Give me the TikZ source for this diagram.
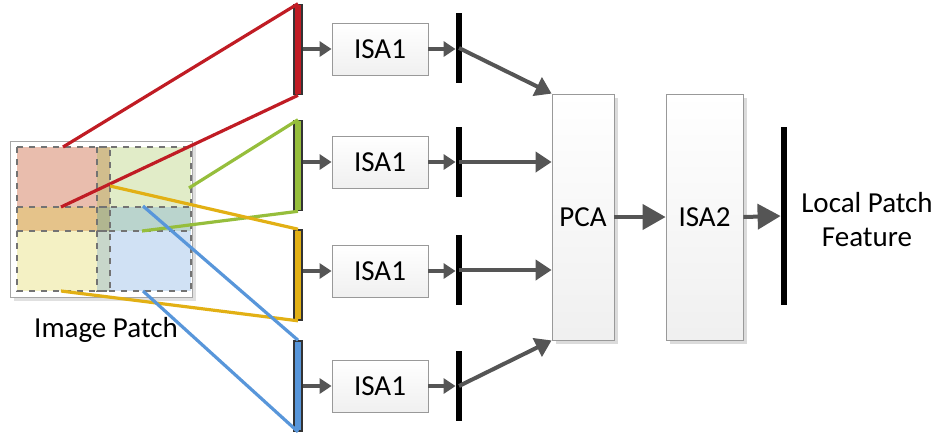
\documentclass[tikz,border=0pt]{standalone}
\usepackage{fontspec}
\setmainfont{Carlito}
\usetikzlibrary{arrows.meta,shadows}
\definecolor{cred}{RGB}{192,28,36}
\definecolor{cgreen}{RGB}{150,190,60}
\definecolor{cyellow}{RGB}{226,176,20}
\definecolor{cblue}{RGB}{88,150,218}
\definecolor{arrgray}{RGB}{85,85,85}
\definecolor{pred}{RGB}{200,90,50}
\definecolor{pyellow}{RGB}{220,210,60}

\begin{document}
\begin{tikzpicture}
[x=0.5pt,y=-0.5pt,font=\fontsize{14.5pt}{17pt}\selectfont,
 ar/.style={-{Triangle[length=6pt,width=7.5pt]},line width=2pt,draw=arrgray},
 arm/.style={-{Triangle[length=8pt,width=10pt]},line width=2pt,draw=arrgray},
 arb/.style={-{Triangle[length=11.5pt,width=12.5pt]},line width=2pt,draw=arrgray},
 ln/.style={line width=1.6pt},
 patch/.style={draw=black!55,dashed,line width=0.6pt},
 cbar/.style={draw=black!80,line width=0.8pt,minimum width=4pt,minimum height=45pt,inner sep=0pt},
 obar/.style={fill=black,minimum width=3pt,minimum height=35pt,inner sep=0pt},
 isa/.style={draw=gray!80,top color=white,bottom color=gray!12,minimum width=48pt,minimum height=26pt,inner sep=0pt},
 tall/.style={draw=gray!80,top color=white,bottom color=gray!12,minimum height=123pt,inner sep=0pt,
   drop shadow={shadow xshift=2pt,shadow yshift=-2pt,fill=black!14,opacity=1}}]
\useasboundingbox (0,0) rectangle (936,435);

% image patch
\draw[draw=gray!70,fill=white,drop shadow={shadow xshift=2pt,shadow yshift=-2pt,fill=black!12,opacity=1}] (10,141) rectangle (192,297);
\fill[pred,fill opacity=.4] (17,147) rectangle (110,231);
\fill[cgreen,fill opacity=.28] (97,147) rectangle (191,231);
\fill[pyellow,fill opacity=.3] (17,207) rectangle (110,291);
\fill[cblue,fill opacity=.28] (97,207) rectangle (191,291);
\draw[patch] (17,147) rectangle (110,231);
\draw[patch] (97,147) rectangle (191,231);
\draw[patch] (17,207) rectangle (110,291);
\draw[patch] (97,207) rectangle (191,291);
\node at (106,330) (lbl) {Image Patch};

\coordinate (r1) at (63,147);
\coordinate (r2) at (61,207);
\coordinate (g1) at (189,188);
\coordinate (g2) at (142,231);
\coordinate (y1) at (110,186);
\coordinate (y2) at (61,291);
\coordinate (b1) at (143,206);
\coordinate (b2) at (143,291);

\node [cbar,fill=cred] at (298,49.5) (rbar) {};
\node [cbar,fill=cgreen] at (298,165.5) (gbar) {};
\node [cbar,fill=cyellow] at (298,275) (ybar) {};
\node [cbar,fill=cblue] at (298,386) (bbar) {};

\draw [ln,cred] (r1) -- (rbar.north);
\draw [ln,cred] (r2) -- (rbar.south);
\draw [ln,cgreen] (g1) -- (gbar.north);
\draw [ln,cgreen] (g2) -- (gbar.south);
\draw [ln,cyellow] (y1) -- (ybar.north);
\draw [ln,cyellow] (y2) -- (ybar.south);
\draw [ln,cblue] (b1) -- (bbar.north);
\draw [ln,cblue] (b2) -- (bbar.south);

\node [isa] at (380,49) (isaA) {ISA1};
\node [isa] at (380,162) (isaB) {ISA1};
\node [isa] at (380,271) (isaC) {ISA1};
\node [isa] at (380,386) (isaD) {ISA1};

\node [obar] at (459,48) (oA) {};
\node [obar] at (459,162) (oB) {};
\node [obar] at (459,270) (oC) {};
\node [obar] at (459,386) (oD) {};

\draw [ar] (rbar.east |- isaA.west) -- (isaA.west);
\draw [ar] (gbar.east |- isaB.west) -- (isaB.west);
\draw [ar] (ybar.east |- isaC.west) -- (isaC.west);
\draw [ar] (bbar.east |- isaD.west) -- (isaD.west);

\draw [ar] (isaA.east) -- (oA.west |- isaA.east);
\draw [ar] (isaB.east) -- (oB.west |- isaB.east);
\draw [ar] (isaC.east) -- (oC.west |- isaC.east);
\draw [ar] (isaD.east) -- (oD.west |- isaD.east);

\node [tall,minimum width=31pt] at (583,217) (pca) {PCA};
\node [tall,minimum width=38.5pt] at (704.5,217) (isa2) {ISA2};
\node [fill=black,minimum width=3pt,minimum height=89pt,inner sep=0pt] at (784,216) (fbar) {};
\node [align=center] at (867,220) (feat) {Local Patch\\Feature};

\draw [arm] (oA.center) -- (pca.north west);
\draw [arm] (oB.center) -- (pca.west |- oB.center);
\draw [arm] (oC.center) -- (pca.west |- oC.center);
\draw [arm] (oD.center) -- (pca.south west);

\draw [arb] (pca.east) -- (isa2.west);
\draw [arb] (isa2.east) -- (fbar.west);
\end{tikzpicture}
\end{document}
